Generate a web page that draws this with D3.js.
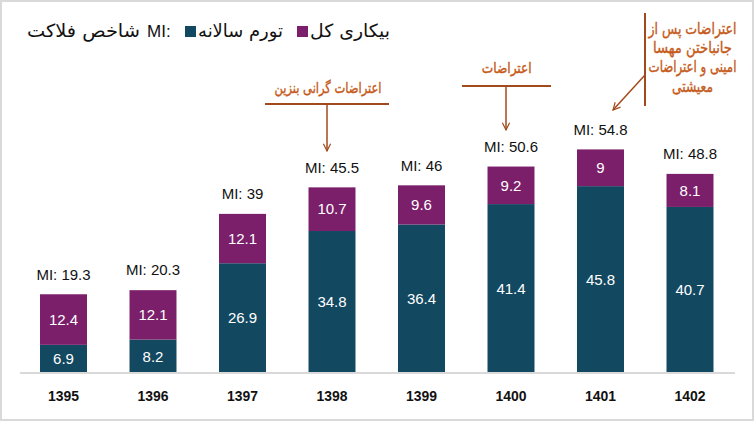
<!DOCTYPE html>
<html><head><meta charset="utf-8">
<script src="https://cdn.jsdelivr.net/npm/d3@7"></script>
<style>html,body{margin:0;padding:0;background:#fff}svg{display:block}</style>
</head><body><svg id="c" width="754" height="422"></svg>
<script>
const years = ["1395","1396","1397","1398","1399","1400","1401","1402"];
const inflation = [6.9, 8.2, 26.9, 34.8, 36.4, 41.4, 45.8, 40.7];
const unemployment = [12.4, 12.1, 12.1, 10.7, 9.6, 9.2, 9, 8.1];
const misery = [19.3, 20.3, 39, 45.5, 46, 50.6, 54.8, 48.8];
const seriesNames = ["تورم سالانه", "بیکاری کل"];
const titleText = "شاخص فلاکت";
const annotations = [
  {year:"1398", lines:["اعتراضات گرانی بنزین"]},
  {year:"1400", lines:["اعتراضات"]},
  {year:"1401", lines:["اعتراضات پس از","جانباختن مهسا","امینی و اعتراضات","معیشتی"]}
];

const C_INF = "#134861", C_UNE = "#7b1f6b", C_ANN = "#c55a1a", C_LINE = "#a14a1c";
const svg = d3.select("#c");
svg.append("rect").attr("x",1).attr("y",1).attr("width",752).attr("height",419)
  .attr("fill","#fff").attr("stroke","#d9d9d9").attr("stroke-width",2);

const x = d3.scaleBand().domain(years).range([18.75,734.75]).paddingInner(0.475).paddingOuter(0.2375);
const y = d3.scaleLinear().domain([0,60]).range([373, 373-60*4.08]);

const stack = d3.stack().keys([0,1]).value((d,k)=>k===0?d.inf:d.une);
const rows = years.map((yr,i)=>({year:yr, inf:inflation[i], une:unemployment[i], mi:misery[i]}));
const layers = stack(rows);
const colors = [C_INF, C_UNE];

layers.forEach((layer,k)=>{
  const g = svg.append("g");
  g.selectAll("rect").data(layer).join("rect")
    .attr("x",d=>x(d.data.year)).attr("width",x.bandwidth())
    .attr("y",d=>y(d[1])).attr("height",d=>y(d[0])-y(d[1]))
    .attr("fill",colors[k]);
  g.selectAll("text").data(layer).join("text")
    .attr("x",d=>x(d.data.year)+x.bandwidth()/2)
    .attr("y",d=>(y(d[0])+y(d[1]))/2)
    .attr("dy","0.35em").attr("text-anchor","middle")
    .attr("fill","#fff").attr("font-family","Liberation Sans, Arial, sans-serif").attr("font-size",15)
    .text(d=>k===0?d.data.inf:d.data.une);
});

svg.append("g").selectAll("text").data(rows).join("text")
  .attr("x",d=>x(d.year)+x.bandwidth()/2).attr("y",d=>y(d.mi)-20)
  .attr("dy","0.35em").attr("text-anchor","middle")
  .attr("fill","#111").attr("font-family","Liberation Sans, Arial, sans-serif").attr("font-size",15)
  .text(d=>"MI: "+d.mi);

// axis
const xAxis = d3.axisBottom(x).tickSize(0).tickPadding(17);
const ax = svg.append("g").attr("transform","translate(0,373)").call(xAxis);
ax.select(".domain").attr("d","M20,0H735").attr("stroke","#d9d9d9").attr("stroke-width",2);
ax.selectAll("text").attr("font-family","Liberation Sans Narrow, Arial Narrow, Liberation Sans, sans-serif")
  .attr("font-weight","bold").attr("font-size",15).attr("fill","#111")
  .attr("textLength",31).attr("lengthAdjust","spacingAndGlyphs");

// Persian text helper: natural render then horizontal scale to target width
const fa = "DejaVu Sans, Noto Sans, sans-serif";
function faText(sel, xMid, yMid, w, size, color, str){
  const g = sel.append("g");
  const t = g.append("text").attr("x",0).attr("y",0).attr("dy","0.35em").attr("text-anchor","middle")
    .attr("font-family",fa).attr("font-size",size).attr("fill",color).text(str);
  const nat = t.node().getComputedTextLength() || w;
  g.attr("transform",`translate(${xMid},${yMid}) scale(${w/nat},1)`);
  return t;
}
const lg = svg.append("g");
faText(lg, 83.5, 31, 113, 18, "#111", titleText);
const miT = lg.append("text").attr("x",147).attr("y",31).attr("dy","0.35em")
  .attr("font-family","Liberation Sans, Arial, sans-serif").attr("font-size",17).attr("fill","#111").text("MI");
const miW = miT.node().getComputedTextLength();
lg.append("text").attr("x",147+miW).attr("y",31).attr("dy","0.35em")
  .attr("font-family","Liberation Sans, Arial, sans-serif").attr("font-size",17).attr("fill","#111").text(":");
const legItems = [{c:C_INF,t:seriesNames[0],sx:185,tx:240.5,w:85},{c:C_UNE,t:seriesNames[1],sx:297,tx:350,w:80}];
legItems.forEach(it=>{
  lg.append("rect").attr("x",it.sx).attr("y",26).attr("width",11).attr("height",11).attr("fill",it.c);
  faText(lg, it.tx, 31, it.w, 18, "#111", it.t);
});

// arrow marker
const defs = svg.append("defs");
defs.append("marker").attr("id","ah").attr("viewBox","0 0 10 10").attr("refX",9).attr("refY",5)
  .attr("markerWidth",9).attr("markerHeight",9).attr("orient","auto").attr("markerUnits","userSpaceOnUse")
  .append("path").attr("d","M1,1L9,5L1,9").attr("fill","none").attr("stroke",C_LINE).attr("stroke-width",1.3);

const a1 = annotations[0], a2 = annotations[1], a3 = annotations[2];
function bracket(a, cx, tx, tY, tw, hY, x0, x1, endY){
  faText(svg, tx, tY, tw, 15, C_ANN, a.lines[0]).attr("stroke",C_ANN).attr("stroke-width",0.4);
  svg.append("line").attr("x1",x0).attr("x2",x1).attr("y1",hY).attr("y2",hY).attr("stroke",C_LINE).attr("stroke-width",2);
  svg.append("line").attr("x1",cx).attr("x2",cx).attr("y1",hY).attr("y2",endY).attr("stroke",C_LINE)
    .attr("stroke-width",1.5).attr("marker-end","url(#ah)");
}
const cx1 = x(a1.year)+x.bandwidth()/2 - 5;
bracket(a1, cx1, 328, 88, 107, 104, 265, 389, 151);
const cx2 = x(a2.year)+x.bandwidth()/2 - 5;
bracket(a2, cx2, 506.7, 68, 50, 86, 462, 551, 130);

// annotation 3
svg.append("line").attr("x1",645).attr("x2",645).attr("y1",13).attr("y2",106).attr("stroke",C_LINE).attr("stroke-width",2);
svg.append("line").attr("x1",645).attr("y1",75).attr("x2",613).attr("y2",110).attr("stroke",C_LINE)
  .attr("stroke-width",1.5).attr("marker-end","url(#ah)");
const w3 = [88, 79, 88, 41];
const ys3 = [28, 47, 66, 86];
a3.lines.forEach((l,i)=>faText(svg, 692.5, ys3[i], w3[i], 16, C_ANN, l).attr("stroke",C_ANN).attr("stroke-width",0.4));
</script></body></html>
